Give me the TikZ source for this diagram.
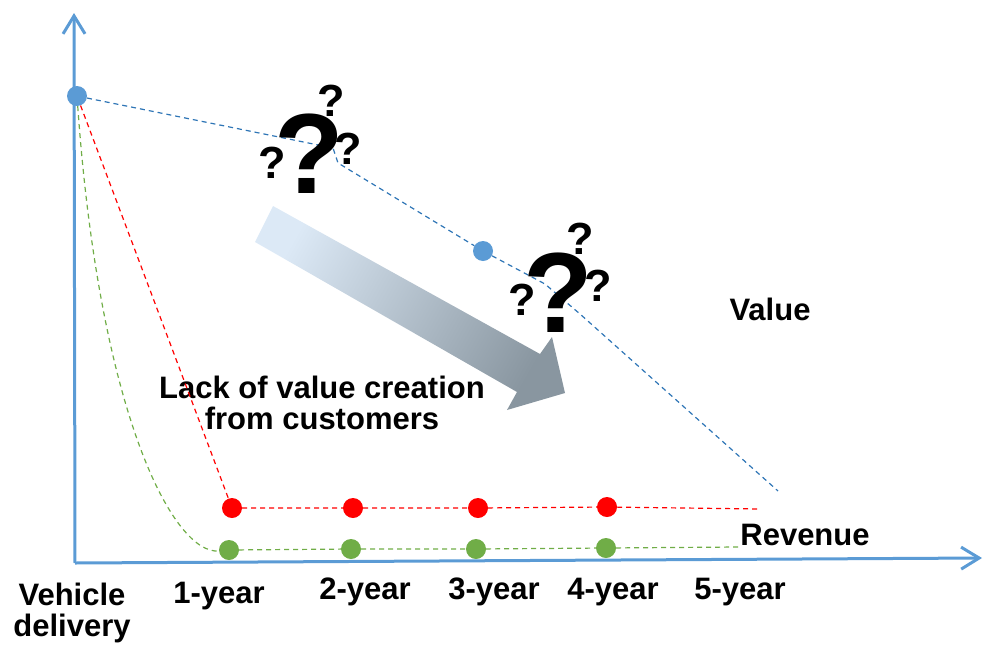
\documentclass[tikz,border=0pt]{standalone}
\usepackage{fontspec}
\setmainfont{Liberation Sans}
\usetikzlibrary{arrows.meta}
\definecolor{axisblue}{RGB}{91,155,213}
\definecolor{lineblue}{RGB}{46,117,182}
\definecolor{revred}{RGB}{255,0,0}
\definecolor{revgreen}{RGB}{112,173,71}
\definecolor{arrowlight}{RGB}{220,233,246}
\definecolor{arrowdark}{RGB}{137,150,160}
\pgfdeclarehorizontalshading{arrowfade}{100bp}{color(0bp)=(arrowlight); color(25bp)=(arrowlight); color(75bp)=(arrowdark); color(100bp)=(arrowdark)}
\tikzset{
	ptdot/.style={circle, inner sep=0pt, minimum size=20pt},
	lbl/.style={font=\bfseries\fontsize{31}{31}\selectfont, inner sep=0pt},
	qbig/.style={font=\bfseries\fontsize{114}{114}\selectfont, inner sep=0pt},
	qsmall/.style={font=\bfseries\fontsize{45}{45}\selectfont, inner sep=0pt},
	axisline/.style={line width=3pt, color=axisblue, -{Straight Barb[length=18pt,width=22pt]}},
	trend/.style={line width=1.2pt, dash pattern=on 5pt off 4pt},
}

\begin{document}
\begin{tikzpicture}[x=1pt, y=-1pt]
			%%%%% START %%%%%
			\useasboundingbox (0, 0) rectangle (983, 646);
			
			\shade[shading=arrowfade, shading angle=-29.6] (273, 206) -- (540, 354) -- (552, 337) -- (565, 393) -- (507, 410) -- (517, 392) -- (255, 242) -- cycle;
			
			\coordinate (o) at (75, 563);
			\coordinate (ytop) at (74, 13);
			\coordinate (xend) at (982, 558);
			\draw[axisline] (o) -- (ytop);
			\draw[axisline] (o) -- (xend);
			
			\node[lbl, anchor=base] (value) at (770, 320) {Value};
			\node[lbl, anchor=base] (revenue) at (805, 545) {Revenue};
			\node[lbl, anchor=north, align=center] (lack) at (322, 375.5) {Lack of value creation\\from customers};
			
			\node[lbl, anchor=north, align=center] (t0) at (72, 582.5) {Vehicle\\delivery};
			\node[lbl, anchor=base] (t1) at (219, 603) {1-year};
			\node[lbl, anchor=base] (t2) at (365, 599) {2-year};
			\node[lbl, anchor=base] (t3) at (494, 599) {3-year};
			\node[lbl, anchor=base] (t4) at (613, 599) {4-year};
			\node[lbl, anchor=base] (t5) at (740, 599) {5-year};
			
			\node[ptdot, fill=axisblue] (v0) at (77, 96) {};
			\node[ptdot, fill=axisblue] (v1) at (483, 251) {};
			
			\node[ptdot, fill=revred] (r1) at (232, 508) {};
			\node[ptdot, fill=revred] (r2) at (353, 508) {};
			\node[ptdot, fill=revred] (r3) at (478, 508) {};
			\node[ptdot, fill=revred] (r4) at (607, 507) {};
			
			\node[ptdot, fill=revgreen] (g1) at (229, 550) {};
			\node[ptdot, fill=revgreen] (g2) at (351, 549) {};
			\node[ptdot, fill=revgreen] (g3) at (476, 549) {};
			\node[ptdot, fill=revgreen] (g4) at (606, 548) {};
			
			\coordinate (k1) at (333, 148);
			\coordinate (k2) at (338, 163);
			\coordinate (k3) at (545, 284);
			\coordinate (k4) at (580, 314);
			\coordinate (vend) at (778, 491);
			\coordinate (rend) at (760, 509);
			\coordinate (gend) at (738, 547);
			
			\draw[trend, color=lineblue] (v0) -- (k1) -- (k2) -- (v1) -- (k3) -- (k4) -- (vend);
			\draw[trend, color=revred] (v0) -- (r1) -- (r2) -- (r3) -- (r4) -- (rend);
			\draw[trend, color=revgreen] (v0) .. controls (100, 420) and (175, 555) .. (g1) -- (g2) -- (g3) -- (g4) -- (gend);
			
			\node[qbig] (qa) at (309, 154) {?};
			\node[qsmall] (qa1) at (331, 101) {?};
			\node[qsmall] (qa2) at (348, 149) {?};
			\node[qsmall] (qa3) at (272, 163) {?};
			
			\node[qbig] (qb) at (558, 293) {?};
			\node[qsmall] (qb1) at (580, 239) {?};
			\node[qsmall] (qb2) at (598, 286) {?};
			\node[qsmall] (qb3) at (522, 300) {?};
			
			%%%%% END %%%%%
\end{tikzpicture}
\end{document}
